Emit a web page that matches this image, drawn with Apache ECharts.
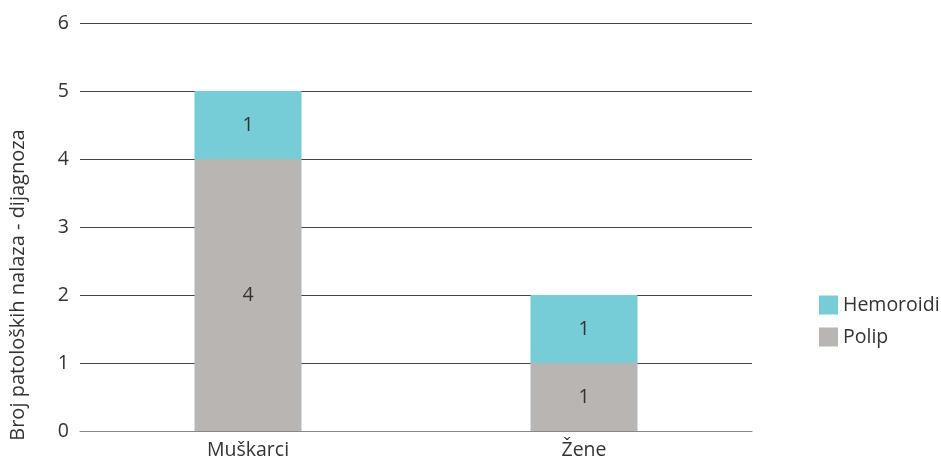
<!DOCTYPE html>
<html>
<head>
<meta charset="utf-8">
<script src="https://cdn.jsdelivr.net/npm/echarts@6/dist/echarts.min.js"></script>
<style>
  html, body { margin: 0; padding: 0; background: #fff; }
  #chart { width: 941px; height: 460px; }
</style>
</head>
<body>
<div id="chart"></div>
<script>
const categories = ['Muškarci', 'Žene']
const polip = [4, 1]
const hemoroidi = [1, 1]
const yTicks = [0, 1, 2, 3, 4, 5, 6]

const chart = echarts.init(document.getElementById('chart'))
const font = 'Open Sans'
const fs = 19.5

chart.setOption({
  animation: false,
  textStyle: { fontFamily: font },
  grid: { left: 80, right: 189, top: 23, bottom: 27 },
  legend: {
    orient: 'vertical',
    left: 814,
    top: 290,
    itemWidth: 19,
    itemHeight: 19,
    itemGap: 12,
    icon: 'rect',
    textStyle: { fontSize: fs, color: '#333', fontFamily: font },
    data: ['Hemoroidi', 'Polip']
  },
  xAxis: {
    type: 'category',
    data: categories,
    axisTick: { show: false },
    axisLine: { lineStyle: { color: '#888', width: 1 } },
    axisLabel: { fontSize: fs, color: '#333', margin: 9 }
  },
  yAxis: {
    type: 'value',
    min: yTicks[0],
    max: yTicks[yTicks.length - 1],
    interval: 1,
    name: 'Broj patoloških nalaza - dijagnoza',
    nameLocation: 'middle',
    nameGap: 52,
    nameTextStyle: { fontSize: 20, color: '#333', padding: [0, 0, 0, -116] },
    axisLine: { show: false },
    axisTick: { show: false },
    axisLabel: { fontSize: fs, color: '#333', margin: 11 },
    splitLine: { lineStyle: { color: '#444', width: 1 } }
  },
  series: [
    {
      name: 'Polip',
      type: 'bar',
      stack: 'total',
      barWidth: 107,
      data: polip,
      itemStyle: { color: '#B9B5B3' },
      label: { show: true, position: 'inside', fontSize: fs, color: '#333' }
    },
    {
      name: 'Hemoroidi',
      type: 'bar',
      stack: 'total',
      barWidth: 107,
      data: hemoroidi,
      itemStyle: { color: '#76CDD8' },
      label: { show: true, position: 'inside', fontSize: fs, color: '#333' }
    }
  ]
})
</script>
</body>
</html>
